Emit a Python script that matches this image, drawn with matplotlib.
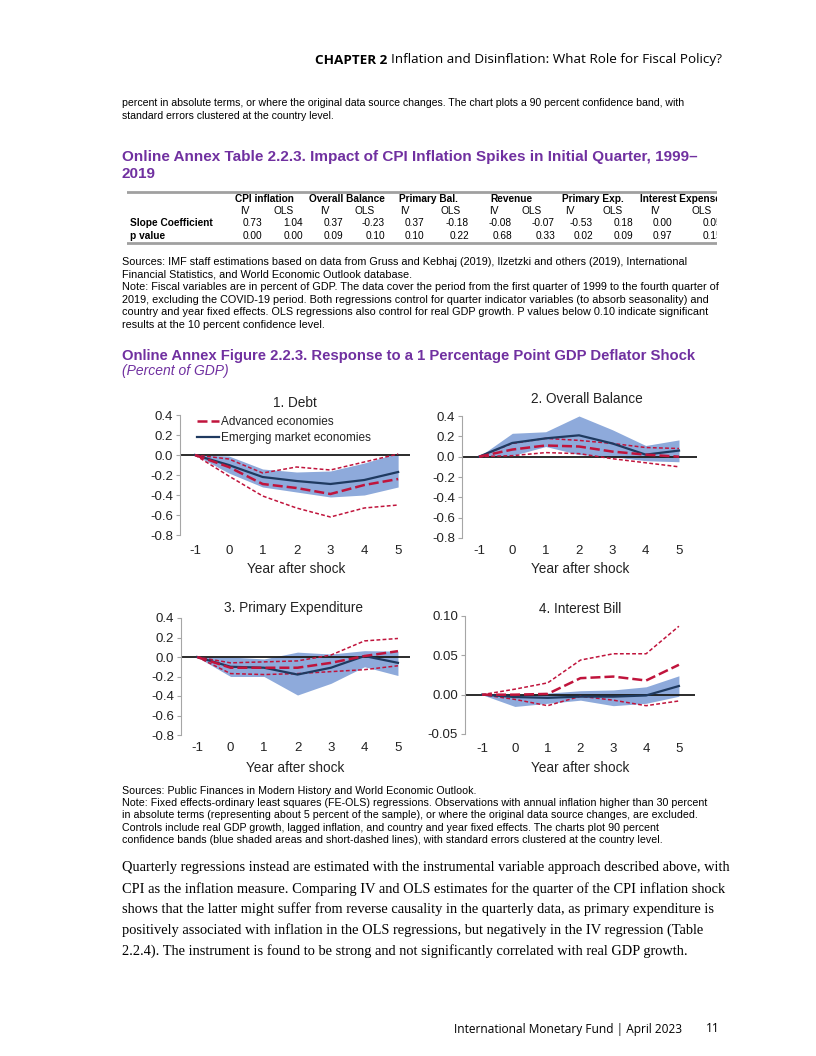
import matplotlib.pyplot as plt
from matplotlib.lines import Line2D

plt.rcParams['font.family'] = 'Liberation Sans'
plt.rcParams['axes.unicode_minus'] = False

W, H = 816, 1056
PURPLE = '#7030a0'
RED = '#c0143c'
NAVY = '#1f3a60'
BAND = '#8eaadb'

# ---- table data ----
groups = ['CPI inflation', 'Overall Balance', 'Primary Bal.', 'Revenue',
          'Primary Exp.', 'Interest Expense']
sub_cols = ['IV', 'OLS'] * 6
slope = [0.73, 1.04, 0.37, -0.23, 0.37, -0.18, -0.08, -0.07, -0.53, 0.18, 0.00, 0.05]
pval = [0.00, 0.00, 0.09, 0.10, 0.10, 0.22, 0.68, 0.33, 0.02, 0.09, 0.97, 0.15]

# ---- chart data (years after shock) ----
years = [-1, 0, 1, 2, 3, 4, 5]

debt_adv = [0, -0.12, -0.29, -0.33, -0.39, -0.30, -0.24]
debt_adv_hi = [0, -0.04, -0.18, -0.12, -0.15, -0.07, 0.01]
debt_adv_lo = [0, -0.21, -0.41, -0.53, -0.62, -0.53, -0.50]
debt_em = [0, -0.10, -0.22, -0.26, -0.29, -0.25, -0.17]
debt_em_hi = [0, -0.01, -0.14, -0.17, -0.16, -0.08, 0.02]
debt_em_lo = [0, -0.18, -0.32, -0.37, -0.42, -0.40, -0.32]

bal_adv = [0, 0.07, 0.11, 0.10, 0.05, 0.02, 0.00]
bal_adv_hi = [0, 0.13, 0.18, 0.16, 0.13, 0.09, 0.08]
bal_adv_lo = [0, 0.01, 0.04, 0.03, -0.02, -0.06, -0.10]
bal_em = [0, 0.135, 0.18, 0.21, 0.13, 0.02, 0.06]
bal_em_hi = [0, 0.23, 0.245, 0.40, 0.265, 0.11, 0.165]
bal_em_lo = [0, 0.01, 0.10, 0.02, 0.00, -0.04, -0.05]

exp_adv = [0, -0.11, -0.11, -0.11, -0.06, 0.01, 0.06]
exp_adv_hi = [0, -0.06, -0.05, -0.04, 0.02, 0.165, 0.19]
exp_adv_lo = [0, -0.17, -0.18, -0.17, -0.15, -0.13, -0.09]
exp_em = [0, -0.10, -0.11, -0.18, -0.11, 0.01, -0.06]
exp_em_hi = [0, 0.00, -0.02, 0.05, 0.03, 0.065, 0.06]
exp_em_lo = [0, -0.20, -0.20, -0.39, -0.27, -0.10, -0.19]

int_adv = [0, 0.000, 0.001, 0.021, 0.023, 0.018, 0.038]
int_adv_hi = [0, 0.007, 0.015, 0.044, 0.052, 0.052, 0.087]
int_adv_lo = [0, -0.006, -0.014, -0.002, -0.007, -0.014, -0.008]
int_em = [0, -0.003, -0.004, -0.0025, -0.0025, -0.001, 0.011]
int_em_hi = [0, 0.000, 0.002, 0.005, 0.006, 0.010, 0.024]
int_em_lo = [0, -0.015, -0.011, -0.007, -0.014, -0.011, -0.002]

# ---- page text ----
top_para = [
    'percent in absolute terms, or where the original data source changes. The chart plots a 90 percent confidence band, with',
    'standard errors clustered at the country level.',
]
table_title = [
    'Online Annex Table 2.2.3. Impact of CPI Inflation Spikes in Initial Quarter, 1999–',
    '2019',
]
table_notes = [
    'Sources: IMF staff estimations based on data from Gruss and Kebhaj (2019), Ilzetzki and others (2019), International',
    'Financial Statistics, and World Economic Outlook database.',
    'Note: Fiscal variables are in percent of GDP. The data cover the period from the first quarter of 1999 to the fourth quarter of',
    '2019, excluding the COVID-19 period. Both regressions control for quarter indicator variables (to absorb seasonality) and',
    'country and year fixed effects. OLS regressions also control for real GDP growth. P values below 0.10 indicate significant',
    'results at the 10 percent confidence level.',
]
fig_notes = [
    'Sources: Public Finances in Modern History and World Economic Outlook.',
    'Note: Fixed effects-ordinary least squares (FE-OLS) regressions. Observations with annual inflation higher than 30 percent',
    'in absolute terms (representing about 5 percent of the sample), or where the original data source changes, are excluded.',
    'Controls include real GDP growth, lagged inflation, and country and year fixed effects. The charts plot 90 percent',
    'confidence bands (blue shaded areas and short-dashed lines), with standard errors clustered at the country level.',
]
body = [
    'Quarterly regressions instead are estimated with the instrumental variable approach described above, with',
    'CPI as the inflation measure. Comparing IV and OLS estimates for the quarter of the CPI inflation shock',
    'shows that the latter might suffer from reverse causality in the quarterly data, as primary expenditure is',
    'positively associated with inflation in the OLS regressions, but negatively in the IV regression (Table',
    '2.2.4). The instrument is found to be strong and not significantly correlated with real GDP growth.',
]

fig = plt.figure(figsize=(W / 100, H / 100), dpi=100)
page = fig.add_axes([0, 0, 1, 1])
page.set_xlim(0, W)
page.set_ylim(H, 0)
page.axis('off')


def px_axes(l, t, r, b):
    return fig.add_axes([l / W, 1 - b / H, (r - l) / W, (b - t) / H])


def lines_at(lines, y0, step, **kw):
    for i, s in enumerate(lines):
        page.text(122, y0 + i * step, s, va='center', ha='left', **kw)


# header
hdr = page.text(722, 60, 'Inflation and Disinflation: What Role for Fiscal Policy?',
                ha='right', va='center', fontsize=9.7, family='Open Sans')
fig.canvas.draw()
x0 = hdr.get_window_extent().x0
page.text(x0 - 4, 60, 'CHAPTER 2', ha='right', va='center', fontsize=9.7,
          family='Open Sans', weight='bold')

lines_at(top_para, 103, 13, fontsize=7.6)
lines_at(table_title, 157, 17, fontsize=11, weight='bold', color=PURPLE)
lines_at(table_notes, 262, 12.6, fontsize=7.8)
page.text(122, 356, 'Online Annex Figure 2.2.3. Response to a 1 Percentage Point GDP Deflator Shock',
          va='center', fontsize=10.7, weight='bold', color=PURPLE)
page.text(122, 371, '(Percent of GDP)', va='center', fontsize=10, style='italic', color=PURPLE)
lines_at(fig_notes, 791, 12.2, fontsize=7.7)
lines_at(body, 868, 20.8, fontsize=10.4, family='Liberation Serif')
page.text(682, 1029, 'International Monetary Fund | April 2023', ha='right', va='center',
          fontsize=8.6, family='Open Sans')
page.text(720, 1029, '11', ha='right', va='center', fontsize=8.6, family='Open Sans')

# ---- table ----
tab = px_axes(127, 188, 717, 247)
tab.set_xlim(127, 717)
tab.set_ylim(247, 188)
tab.axis('off')
tab.axhline(192, color='#a0a0a0', lw=2)
tab.axhline(243, color='#a0a0a0', lw=2)
grp_x = [264, 347, 428, 511, 593, 680]
sub_x = [245, 284, 325, 365, 405, 451, 494, 532, 570, 613, 655, 702]
num_x = [262, 303, 343, 385, 424, 469, 512, 555, 593, 633, 672, 722]
for g, x in zip(groups, grp_x):
    tab.text(x, 199, g, ha='center', va='center', fontsize=7.3, weight='bold', clip_on=True)
for s, x in zip(sub_cols, sub_x):
    tab.text(x, 211, s, ha='center', va='center', fontsize=7.3, clip_on=True)
tab.text(130, 223.5, 'Slope Coefficient', va='center', fontsize=7.3, weight='bold')
tab.text(130, 236, 'p value', va='center', fontsize=7.3, weight='bold')
for v, x in zip(slope, num_x):
    tab.text(x, 223.5, f'{v:.2f}', ha='right', va='center', fontsize=7.3, clip_on=True)
for v, x in zip(pval, num_x):
    tab.text(x, 236, f'{v:.2f}', ha='right', va='center', fontsize=7.3, clip_on=True)


# ---- charts ----
def panel(box, xlim, ylim, yticks, fmt, xpad, em, em_lo, em_hi, adv, adv_lo, adv_hi):
    ax = px_axes(*box)
    ax.fill_between(years, em_lo, em_hi, color=BAND, lw=0, zorder=1)
    ax.axhline(0, color='#1a1a1a', lw=1.3, zorder=2)
    ax.plot(years, adv_hi, color=RED, lw=1.1, dashes=(2.5, 1.5), zorder=3)
    ax.plot(years, adv_lo, color=RED, lw=1.1, dashes=(2.5, 1.5), zorder=3)
    ax.plot(years, em, color=NAVY, lw=1.6, zorder=4)
    ax.plot(years, adv, color=RED, lw=1.8, dashes=(4, 1.6), zorder=5)
    ax.set_xlim(*xlim)
    ax.set_ylim(*ylim)
    ax.set_yticks(yticks)
    ax.set_yticklabels([fmt % t for t in yticks])
    ax.set_xticks(years)
    ax.set_xticklabels([str(y) for y in years])
    for s in ['top', 'right', 'bottom']:
        ax.spines[s].set_visible(False)
    ax.spines['left'].set_color('#a6a6a6')
    ax.spines['left'].set_linewidth(0.8)
    ax.tick_params(axis='y', length=3, width=0.8, color='#a6a6a6', pad=2,
                   labelsize=9.5, labelcolor='#222222')
    ax.tick_params(axis='x', length=0, pad=xpad, labelsize=9.5, labelcolor='#222222')
    ax.patch.set_alpha(0)
    return ax


rng = [-0.8, -0.6, -0.4, -0.2, 0.0, 0.2, 0.4]
ax1 = panel((180, 415, 410, 535), (-1.44, 5.35), (-0.8, 0.4), rng, '%.1f', 7,
            debt_em, debt_em_lo, debt_em_hi, debt_adv, debt_adv_lo, debt_adv_hi)
ax2 = panel((462, 416, 697, 538), (-1.51, 5.54), (-0.8, 0.4), rng, '%.1f', 5,
            bal_em, bal_em_lo, bal_em_hi, bal_adv, bal_adv_lo, bal_adv_hi)
ax3 = panel((181, 618, 410, 735), (-1.48, 5.36), (-0.8, 0.4), rng, '%.1f', 5.2,
            exp_em, exp_em_lo, exp_em_hi, exp_adv, exp_adv_lo, exp_adv_hi)
ax4 = panel((465, 616, 695, 734), (-1.52, 5.49), (-0.05, 0.10), [-0.05, 0.0, 0.05, 0.10], '%.2f', 6.2,
            int_em, int_em_lo, int_em_hi, int_adv, int_adv_lo, int_adv_hi)

titles = [('1. Debt', 295, 403), ('2. Overall Balance', 587, 399),
          ('3. Primary Expenditure', 294, 608), ('4. Interest Bill', 580, 609)]
for t, x, y in titles:
    page.text(x, y, t, ha='center', va='center', fontsize=9.8, color='#222222')
for x, y in [(296, 569), (580, 569), (295, 768), (580, 768)]:
    page.text(x, y, 'Year after shock', ha='center', va='center', fontsize=9.8, color='#222222')

handles = [Line2D([], [], color=RED, lw=1.8, dashes=(4, 1.6)),
           Line2D([], [], color=NAVY, lw=1.6)]
ax1.legend(handles, ['Advanced economies', 'Emerging market economies'],
           loc='upper left', bbox_to_anchor=(197 / W, 1 - 416 / H),
           bbox_transform=fig.transFigure, frameon=False, fontsize=8.5,
           handlelength=1.9, handletextpad=0.15, labelspacing=0.35,
           borderpad=0, borderaxespad=0, labelcolor='#222222')

fig.savefig('out.png', dpi=100)
